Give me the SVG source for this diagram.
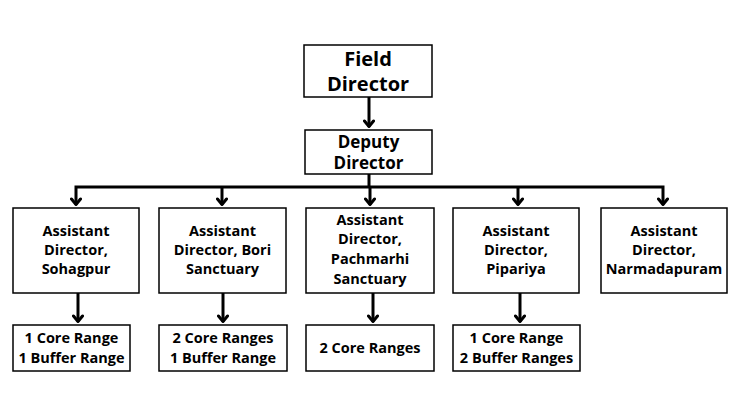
<svg xmlns="http://www.w3.org/2000/svg" width="740" height="416" viewBox="0 0 740 416">
<style>
.box{fill:#fff;stroke:#000;stroke-width:1.5}
.t{font-family:"Open Sans","Liberation Sans",sans-serif;font-weight:700;fill:#000;text-anchor:middle}
.big{font-size:20px}
.mid{font-size:17px}
.sm{font-size:14.5px}
.c{fill:none;stroke:#000;stroke-width:3}
</style>
<defs>
<marker id="ah" viewBox="0 0 10 12" refX="8" refY="6" markerWidth="10" markerHeight="12" markerUnits="userSpaceOnUse" orient="auto-start-reverse">
<path d="M2,1.5 L7.5,6 L2,10.5" fill="none" stroke="#000" stroke-width="3" stroke-linejoin="round" stroke-linecap="round"/>
</marker>
</defs>
<rect width="740" height="416" fill="#fff"/>
<g id="connectors">
<line class="c" x1="369" y1="97" x2="369" y2="127" marker-end="url(#ah)"/>
<polyline class="c" points="369,174 369,187"/>
<polyline class="c" points="76,205 76,187 663,187 663,205" marker-end="url(#ah)" marker-start="url(#ah)"/>
<line class="c" x1="222" y1="187" x2="222" y2="205" marker-end="url(#ah)"/>
<line class="c" x1="370" y1="187" x2="370" y2="205" marker-end="url(#ah)"/>
<line class="c" x1="518" y1="187" x2="518" y2="205" marker-end="url(#ah)"/>
<line class="c" x1="78" y1="293" x2="78" y2="322" marker-end="url(#ah)"/>
<line class="c" x1="223" y1="293" x2="223" y2="322" marker-end="url(#ah)"/>
<line class="c" x1="373" y1="293" x2="373" y2="322" marker-end="url(#ah)"/>
<line class="c" x1="520" y1="293" x2="520" y2="322" marker-end="url(#ah)"/>
</g>
<g id="field-director">
<rect class="box" x="304" y="45" width="128" height="52"/>
<text class="t big" x="368" y="66">Field</text>
<text class="t big" x="368" y="91">Director</text>
</g>
<g id="deputy-director">
<rect class="box" x="305" y="130" width="127" height="44"/>
<text class="t mid" x="368.5" y="148">Deputy</text>
<text class="t mid" x="368.5" y="169">Director</text>
</g>
<g id="ad-sohagpur">
<rect class="box" x="13" y="208" width="126" height="85"/>
<text class="t sm" x="76" y="236">Assistant</text>
<text class="t sm" x="76" y="255">Director,</text>
<text class="t sm" x="76" y="274">Sohagpur</text>
</g>
<g id="ad-bori">
<rect class="box" x="159" y="208" width="127" height="85"/>
<text class="t sm" x="222.5" y="236">Assistant</text>
<text class="t sm" x="222.5" y="255">Director, Bori</text>
<text class="t sm" x="222.5" y="274">Sanctuary</text>
</g>
<g id="ad-pachmarhi">
<rect class="box" x="306" y="208" width="128" height="85"/>
<text class="t sm" x="370" y="225">Assistant</text>
<text class="t sm" x="370" y="244">Director,</text>
<text class="t sm" x="370" y="264">Pachmarhi</text>
<text class="t sm" x="370" y="284">Sanctuary</text>
</g>
<g id="ad-pipariya">
<rect class="box" x="453" y="208" width="126" height="85"/>
<text class="t sm" x="516" y="236">Assistant</text>
<text class="t sm" x="516" y="255">Director,</text>
<text class="t sm" x="516" y="274">Pipariya</text>
</g>
<g id="ad-narmadapuram">
<rect class="box" x="601" y="208" width="126" height="85"/>
<text class="t sm" x="664" y="236">Assistant</text>
<text class="t sm" x="664" y="255">Director,</text>
<text class="t sm" x="664" y="274">Narmadapuram</text>
</g>
<g id="ranges-sohagpur">
<rect class="box" x="13" y="325" width="117" height="46"/>
<text class="t sm" x="71.5" y="343">1 Core Range</text>
<text class="t sm" x="71.5" y="363">1 Buffer Range</text>
</g>
<g id="ranges-bori">
<rect class="box" x="159" y="325" width="128" height="46"/>
<text class="t sm" x="223" y="343">2 Core Ranges</text>
<text class="t sm" x="223" y="363">1 Buffer Range</text>
</g>
<g id="ranges-pachmarhi">
<rect class="box" x="306" y="325" width="128" height="46"/>
<text class="t sm" x="370" y="353">2 Core Ranges</text>
</g>
<g id="ranges-pipariya">
<rect class="box" x="453" y="325" width="127" height="46"/>
<text class="t sm" x="516.5" y="343">1 Core Range</text>
<text class="t sm" x="516.5" y="363">2 Buffer Ranges</text>
</g>
</svg>
